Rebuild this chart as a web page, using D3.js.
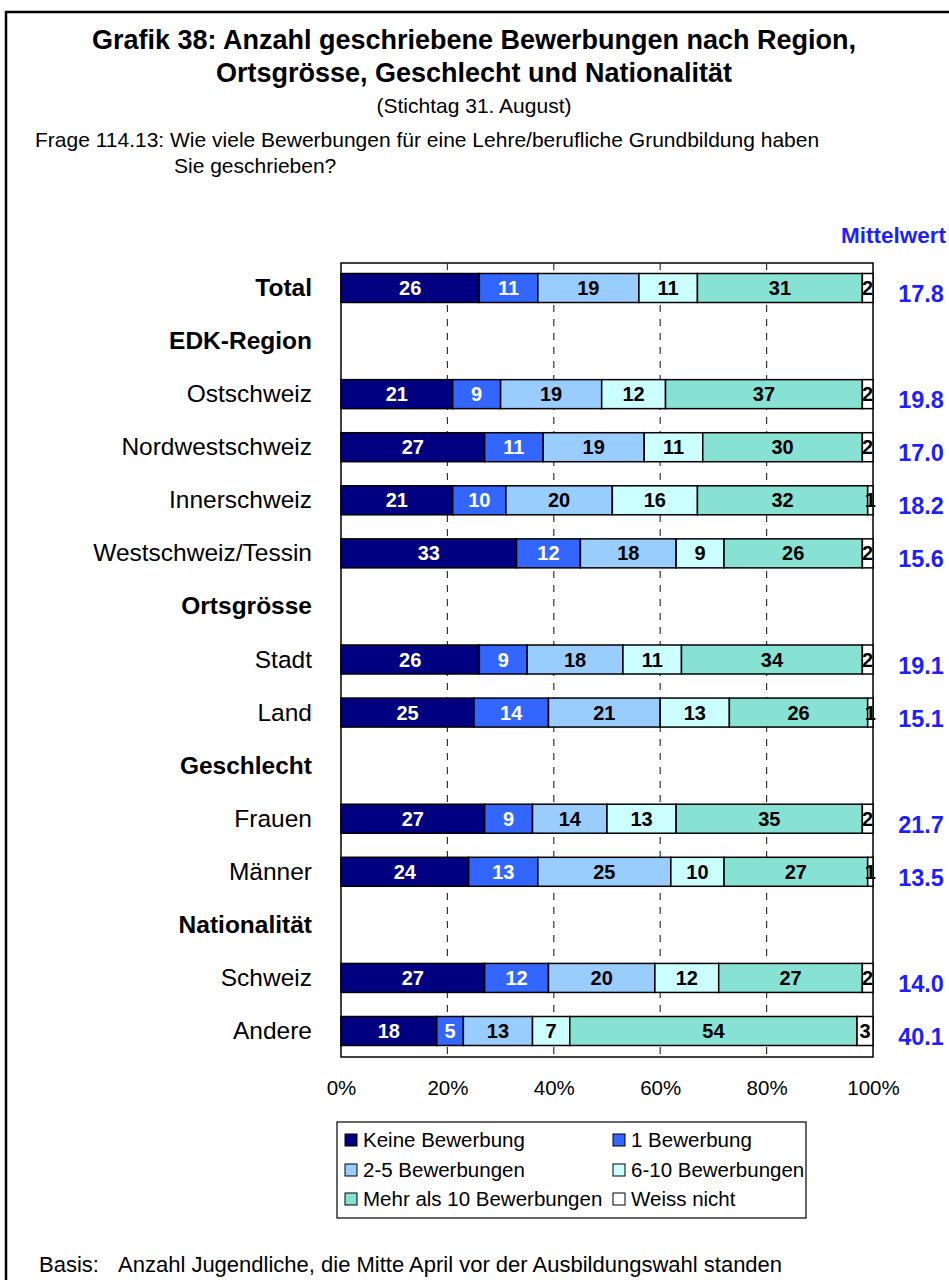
<!DOCTYPE html>
<html>
<head>
<meta charset="utf-8">
<script src="https://cdn.jsdelivr.net/npm/d3@7"></script>
<style>
  html, body { margin: 0; padding: 0; background: #fff; }
  svg { display: block; font-family: "Liberation Sans", Arial, sans-serif; }
</style>
</head>
<body>
<svg id="chart" width="949" height="1280"></svg>
<script>
// Rows of the chart; header rows carry no bar
const rows = ["Total", "EDK-Region", "Ostschweiz", "Nordwestschweiz", "Innerschweiz", "Westschweiz/Tessin",
              "Ortsgrösse", "Stadt", "Land", "Geschlecht", "Frauen", "Männer",
              "Nationalität", "Schweiz", "Andere"];
const boldRows = ["Total", "EDK-Region", "Ortsgrösse", "Geschlecht", "Nationalität"];
const barRows = ["Total", "Ostschweiz", "Nordwestschweiz", "Innerschweiz", "Westschweiz/Tessin",
                 "Stadt", "Land", "Frauen", "Männer", "Schweiz", "Andere"];

const seriesNames = ["Keine Bewerbung", "1 Bewerbung", "2-5 Bewerbungen", "6-10 Bewerbungen",
                     "Mehr als 10 Bewerbungen", "Weiss nicht"];

// Percentages per series, in the order of barRows
const keine     = [26, 21, 27, 21, 33, 26, 25, 27, 24, 27, 18];
const eine      = [11,  9, 11, 10, 12,  9, 14,  9, 13, 12,  5];
const zweiFuenf = [19, 19, 19, 20, 18, 18, 21, 14, 25, 20, 13];
const sechsZehn = [11, 12, 11, 16,  9, 11, 13, 13, 10, 12,  7];
const mehrZehn  = [31, 37, 30, 32, 26, 34, 26, 35, 27, 27, 54];
const weissNicht= [ 2,  2,  2,  1,  2,  2,  1,  2,  1,  2,  3];

// Mean number of applications
const mittelwert = [17.8, 19.8, 17.0, 18.2, 15.6, 19.1, 15.1, 21.7, 13.5, 14.0, 40.1];

const xTicks = [0, 20, 40, 60, 80, 100];

const colors = ["#000080", "#3366FF", "#99CCFF", "#CCFFFF", "#88E2D3", "#FFFFFF"];
const labelColors = ["#fff", "#fff", "#000", "#000", "#000", "#000"];
const blue = "#1E1EFF";

const seriesValues = [keine, eine, zweiFuenf, sechsZehn, mehrZehn, weissNicht];
const table = barRows.map((r, i) => {
  const o = { row: r };
  seriesNames.forEach((s, k) => { o[s] = seriesValues[k][i]; });
  return o;
});

const svg = d3.select("#chart");

// Outer frame
svg.append("path")
  .attr("d", "M6,1282 V12 H951")
  .attr("fill", "none").attr("stroke", "#000").attr("stroke-width", 2.5);

// Title block
const title = svg.append("g").attr("text-anchor", "middle").attr("fill", "#000");
title.append("text").attr("x", 474).attr("y", 49)
  .attr("font-size", 27).attr("font-weight", "bold")
  .text("Grafik 38: Anzahl geschriebene Bewerbungen nach Region,");
title.append("text").attr("x", 474).attr("y", 82)
  .attr("font-size", 27).attr("font-weight", "bold")
  .text("Ortsgrösse, Geschlecht und Nationalität");
title.append("text").attr("x", 474).attr("y", 113)
  .attr("font-size", 21).text("(Stichtag 31. August)");

svg.append("text").attr("x", 35).attr("y", 147).attr("font-size", 21)
  .text("Frage 114.13: Wie viele Bewerbungen für eine Lehre/berufliche Grundbildung haben");
svg.append("text").attr("x", 174).attr("y", 173).attr("font-size", 21)
  .text("Sie geschrieben?");

// Plot geometry
const plotLeft = 341, plotRight = 873, plotTop = 263, plotBottom = 1057;
const barH = 29;

const x = d3.scaleLinear().domain([0, 100]).range([plotLeft, plotRight]);
const y = d3.scalePoint().domain(rows).range([288, 1031]);

// Plot frame
svg.append("rect")
  .attr("x", plotLeft).attr("y", plotTop)
  .attr("width", plotRight - plotLeft).attr("height", plotBottom - plotTop)
  .attr("fill", "#fff").attr("stroke", "#000").attr("stroke-width", 1.5);

// Dashed vertical gridlines
svg.append("g")
  .selectAll("line")
  .data(xTicks.filter(t => t > 0 && t < 100))
  .join("line")
  .attr("x1", d => x(d)).attr("x2", d => x(d))
  .attr("y1", plotTop).attr("y2", plotBottom)
  .attr("stroke", "#333").attr("stroke-width", 1.2)
  .attr("stroke-dasharray", "7,7");

// Stacked bars
const stack = d3.stack().keys(seriesNames)(table);
const bars = svg.append("g");
stack.forEach((layer, k) => {
  const g = bars.append("g");
  g.selectAll("rect")
    .data(layer)
    .join("rect")
    .attr("x", d => x(d[0]))
    .attr("y", d => y(d.data.row) - barH / 2)
    .attr("width", d => x(d[1]) - x(d[0]))
    .attr("height", barH)
    .attr("fill", colors[k])
    .attr("stroke", "#000").attr("stroke-width", 1.5);
  g.selectAll("text")
    .data(layer)
    .join("text")
    .attr("x", d => (x(d[0]) + x(d[1])) / 2)
    .attr("y", d => y(d.data.row) + 7)
    .attr("text-anchor", "middle")
    .attr("font-size", 20).attr("font-weight", "bold")
    .attr("fill", labelColors[k])
    .text(d => d[1] - d[0]);
});

// Category labels
svg.append("g")
  .selectAll("text")
  .data(rows)
  .join("text")
  .attr("x", 312)
  .attr("y", d => y(d) + 8)
  .attr("text-anchor", "end")
  .attr("font-size", 24.5)
  .attr("font-weight", d => boldRows.includes(d) ? "bold" : "normal")
  .text(d => d);

// Mean values
svg.append("text").attr("x", 946).attr("y", 243).attr("text-anchor", "end")
  .attr("font-size", 22.5).attr("font-weight", "bold").attr("fill", blue)
  .text("Mittelwert");
svg.append("g")
  .selectAll("text")
  .data(barRows)
  .join("text")
  .attr("x", 921)
  .attr("y", (d, i) => y(d) + 14)
  .attr("text-anchor", "middle")
  .attr("font-size", 23.5).attr("font-weight", "bold").attr("fill", blue)
  .text((d, i) => mittelwert[i].toFixed(1));

// X axis labels
const xAxis = d3.axisBottom(x).tickValues(xTicks).tickSize(0).tickPadding(0)
  .tickFormat(d => d + "%");
svg.append("g")
  .attr("transform", `translate(0,${1080})`)
  .call(xAxis)
  .call(g => g.select(".domain").remove())
  .call(g => g.selectAll("text")
    .attr("font-size", 20.5).attr("font-family", "Liberation Sans, Arial, sans-serif")
    .attr("fill", "#000"));

// Legend
const legend = svg.append("g");
legend.append("rect")
  .attr("x", 337).attr("y", 1122).attr("width", 469).attr("height", 96)
  .attr("fill", "#fff").attr("stroke", "#000").attr("stroke-width", 1.2);
const legCols = [345, 613];
const legRows = [1140, 1170, 1199];
seriesNames.forEach((s, k) => {
  const lx = legCols[k % 2], ly = legRows[Math.floor(k / 2)];
  legend.append("rect")
    .attr("x", lx).attr("y", ly - 6).attr("width", 12).attr("height", 12)
    .attr("fill", colors[k]).attr("stroke", "#000").attr("stroke-width", 1);
  legend.append("text")
    .attr("x", lx + 18).attr("y", ly + 7)
    .attr("font-size", 20.5).text(s);
});

// Footnote
svg.append("text").attr("x", 39).attr("y", 1272).attr("font-size", 22)
  .text("Basis:");
svg.append("text").attr("x", 118).attr("y", 1272).attr("font-size", 22)
  .text("Anzahl Jugendliche, die Mitte April vor der Ausbildungswahl standen");
</script>
</body>
</html>
